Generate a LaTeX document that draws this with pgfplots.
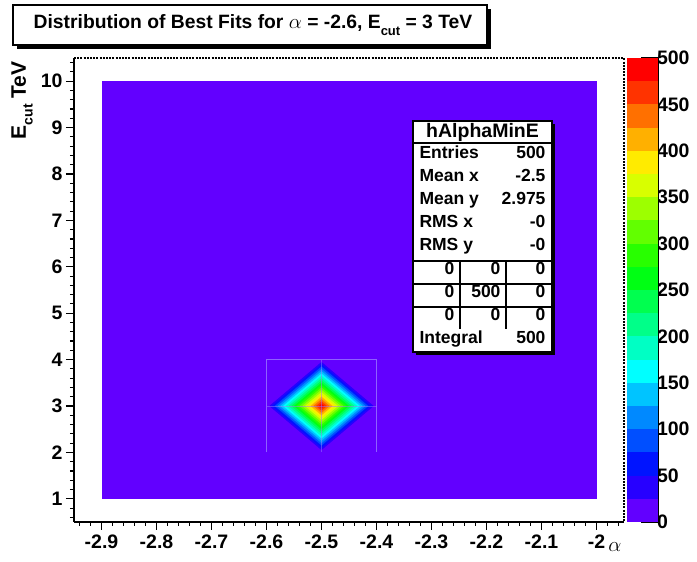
\documentclass[border=0pt]{standalone}
\usepackage{fontspec}
\setmainfont{Liberation Sans}
\usepackage{pgfplots}
\pgfplotsset{compat=1.18}

\definecolor{c0}{rgb}{0.383,0,1}
\definecolor{c1}{rgb}{0.153,0,1}
\definecolor{c2}{rgb}{0,0.077,1}
\definecolor{c3}{rgb}{0,0.308,1}
\definecolor{c4}{rgb}{0,0.538,1}
\definecolor{c5}{rgb}{0,0.770,1}
\definecolor{c6}{rgb}{0,1,1}
\definecolor{c7}{rgb}{0,1,0.770}
\definecolor{c8}{rgb}{0,1,0.538}
\definecolor{c9}{rgb}{0,1,0.308}
\definecolor{c10}{rgb}{0,1,0.077}
\definecolor{c11}{rgb}{0.155,1,0}
\definecolor{c12}{rgb}{0.385,1,0}
\definecolor{c13}{rgb}{0.615,1,0}
\definecolor{c14}{rgb}{0.847,1,0}
\definecolor{c15}{rgb}{1,0.923,0}
\definecolor{c16}{rgb}{1,0.692,0}
\definecolor{c17}{rgb}{1,0.44,0}
\definecolor{c18}{rgb}{1,0.2,0}
\definecolor{c19}{rgb}{1,0,0}
\definecolor{gridc}{rgb}{0.6,0.48,1}

\newcommand{\tfont}{\fontsize{19.5}{19.5}\selectfont\bfseries}
\newcommand{\sfontx}{\fontsize{17.5}{17.5}\selectfont\bfseries}

\begin{document}
\begin{tikzpicture}[x=1pt,y=1pt]
\path[use as bounding box] (0,0) rectangle (697,562);

% ---------------- main histogram axis ----------------
\begin{axis}[
  at={(74pt,40pt)}, anchor=south west,
  scale only axis, width=550pt, height=464pt,
  xmin=-2.95, xmax=-1.95, ymin=0.5, ymax=10.5,
  axis x line*=bottom, axis y line*=left,
  axis line style={-, line width=1.3pt},
  xtick={-2.9,-2.8,-2.7,-2.6,-2.5,-2.4,-2.3,-2.2,-2.1,-2.0},
  xticklabels={-2.9,-2.8,-2.7,-2.6,-2.5,-2.4,-2.3,-2.2,-2.1,-2},
  minor xtick={-2.94,-2.92,...,-1.955},
  ytick={1,2,3,4,5,6,7,8,9,10},
  yticklabels={1,2,3,4,5,6,7,8,9,10},
  minor ytick={0.6,0.8,...,10.45},
  tick align=outside,
  major tick length=8pt, minor tick length=4pt,
  tick style={line width=1.1pt, black},
  ticklabel style={font=\tfont},
  xticklabel style={yshift=-1.5pt},
  clip=false,
]
% histogram level 0 (0-25) everywhere
\addplot[fill=c0, draw=none] coordinates {(-2.9,1) (-2.0,1) (-2.0,10) (-2.9,10)} -- cycle;
% contour bands around the single filled bin (-2.5, 3) = 500
\addplot[fill=c1, draw=none] coordinates {(-2.595,3) (-2.5,2.05) (-2.405,3) (-2.5,3.95)} -- cycle;
\addplot[fill=c2, draw=none] coordinates {(-2.59,3) (-2.5,2.1) (-2.41,3) (-2.5,3.9)} -- cycle;
\addplot[fill=c3, draw=none] coordinates {(-2.585,3) (-2.5,2.15) (-2.415,3) (-2.5,3.85)} -- cycle;
\addplot[fill=c4, draw=none] coordinates {(-2.58,3) (-2.5,2.2) (-2.42,3) (-2.5,3.8)} -- cycle;
\addplot[fill=c5, draw=none] coordinates {(-2.575,3) (-2.5,2.25) (-2.425,3) (-2.5,3.75)} -- cycle;
\addplot[fill=c6, draw=none] coordinates {(-2.57,3) (-2.5,2.3) (-2.43,3) (-2.5,3.7)} -- cycle;
\addplot[fill=c7, draw=none] coordinates {(-2.565,3) (-2.5,2.35) (-2.435,3) (-2.5,3.65)} -- cycle;
\addplot[fill=c8, draw=none] coordinates {(-2.56,3) (-2.5,2.4) (-2.44,3) (-2.5,3.6)} -- cycle;
\addplot[fill=c9, draw=none] coordinates {(-2.555,3) (-2.5,2.45) (-2.445,3) (-2.5,3.55)} -- cycle;
\addplot[fill=c10, draw=none] coordinates {(-2.55,3) (-2.5,2.5) (-2.45,3) (-2.5,3.5)} -- cycle;
\addplot[fill=c11, draw=none] coordinates {(-2.545,3) (-2.5,2.55) (-2.455,3) (-2.5,3.45)} -- cycle;
\addplot[fill=c12, draw=none] coordinates {(-2.54,3) (-2.5,2.6) (-2.46,3) (-2.5,3.4)} -- cycle;
\addplot[fill=c13, draw=none] coordinates {(-2.535,3) (-2.5,2.65) (-2.465,3) (-2.5,3.35)} -- cycle;
\addplot[fill=c14, draw=none] coordinates {(-2.53,3) (-2.5,2.7) (-2.47,3) (-2.5,3.3)} -- cycle;
\addplot[fill=c15, draw=none] coordinates {(-2.525,3) (-2.5,2.75) (-2.475,3) (-2.5,3.25)} -- cycle;
\addplot[fill=c16, draw=none] coordinates {(-2.52,3) (-2.5,2.8) (-2.48,3) (-2.5,3.2)} -- cycle;
\addplot[fill=c17, draw=none] coordinates {(-2.515,3) (-2.5,2.85) (-2.485,3) (-2.5,3.15)} -- cycle;
\addplot[fill=c18, draw=none] coordinates {(-2.51,3) (-2.5,2.9) (-2.49,3) (-2.5,3.1)} -- cycle;
\addplot[fill=c19, draw=none] coordinates {(-2.505,3) (-2.5,2.95) (-2.495,3) (-2.5,3.05)} -- cycle;
% faint bin-grid lines of the contour cells
\addplot[gridc, line width=0.5pt, opacity=0.8] coordinates {(-2.6,2) (-2.6,4) (-2.4,4) (-2.4,2)};
\addplot[gridc, line width=0.5pt, opacity=0.5] coordinates {(-2.6,3) (-2.4,3)};
\addplot[gridc, line width=0.5pt, opacity=0.5] coordinates {(-2.5,2) (-2.5,4)};
% dashed top / right frame
\draw[line width=1.3pt, dash pattern=on 2pt off 1.2pt] (rel axis cs:0,1) -- (rel axis cs:1,1) -- (rel axis cs:1,0);
\end{axis}

% ---------------- colour bar ----------------
\begin{axis}[
  at={(627pt,40pt)}, anchor=south west,
  scale only axis, width=31pt, height=464pt,
  xmin=0, xmax=1, ymin=0, ymax=500,
  axis x line=none, axis y line*=right,
  axis line style={-, line width=1.1pt},
  ytick={0,50,100,150,200,250,300,350,400,450,500},
  yticklabels={0,50,100,150,200,250,300,350,400,450,500},
  tick align=inside, major tick length=17pt,
  tick style={line width=1.1pt, black},
  yticklabel style={font=\tfont, anchor=west, xshift=-4.5pt},
]
\addplot[fill=c0, draw=none] coordinates {(0,0) (1,0) (1,25) (0,25)} -- cycle;
\addplot[fill=c1, draw=none] coordinates {(0,25) (1,25) (1,50) (0,50)} -- cycle;
\addplot[fill=c2, draw=none] coordinates {(0,50) (1,50) (1,75) (0,75)} -- cycle;
\addplot[fill=c3, draw=none] coordinates {(0,75) (1,75) (1,100) (0,100)} -- cycle;
\addplot[fill=c4, draw=none] coordinates {(0,100) (1,100) (1,125) (0,125)} -- cycle;
\addplot[fill=c5, draw=none] coordinates {(0,125) (1,125) (1,150) (0,150)} -- cycle;
\addplot[fill=c6, draw=none] coordinates {(0,150) (1,150) (1,175) (0,175)} -- cycle;
\addplot[fill=c7, draw=none] coordinates {(0,175) (1,175) (1,200) (0,200)} -- cycle;
\addplot[fill=c8, draw=none] coordinates {(0,200) (1,200) (1,225) (0,225)} -- cycle;
\addplot[fill=c9, draw=none] coordinates {(0,225) (1,225) (1,250) (0,250)} -- cycle;
\addplot[fill=c10, draw=none] coordinates {(0,250) (1,250) (1,275) (0,275)} -- cycle;
\addplot[fill=c11, draw=none] coordinates {(0,275) (1,275) (1,300) (0,300)} -- cycle;
\addplot[fill=c12, draw=none] coordinates {(0,300) (1,300) (1,325) (0,325)} -- cycle;
\addplot[fill=c13, draw=none] coordinates {(0,325) (1,325) (1,350) (0,350)} -- cycle;
\addplot[fill=c14, draw=none] coordinates {(0,350) (1,350) (1,375) (0,375)} -- cycle;
\addplot[fill=c15, draw=none] coordinates {(0,375) (1,375) (1,400) (0,400)} -- cycle;
\addplot[fill=c16, draw=none] coordinates {(0,400) (1,400) (1,425) (0,425)} -- cycle;
\addplot[fill=c17, draw=none] coordinates {(0,425) (1,425) (1,450) (0,450)} -- cycle;
\addplot[fill=c18, draw=none] coordinates {(0,450) (1,450) (1,475) (0,475)} -- cycle;
\addplot[fill=c19, draw=none] coordinates {(0,475) (1,475) (1,500) (0,500)} -- cycle;
\end{axis}

% ---------------- title box ----------------
\fill[black] (17,513) rectangle (491,553);
\draw[fill=white, line width=1.2pt] (13,517) rectangle (487,557);
\node[font=\fontsize{19.3}{19.3}\selectfont\bfseries] at (253,537)
  {Distribution of Best Fits for $\alpha$ = -2.6, E\raisebox{-0.32em}{\fontsize{13}{13}\selectfont cut} = 3 TeV};

% ---------------- axis titles ----------------
\node[rotate=90, anchor=base east, font=\fontsize{21}{21}\selectfont\bfseries] at (26,504)
  {E\raisebox{-0.32em}{\fontsize{14}{14}\selectfont cut} TeV};
\node[font=\fontsize{22}{22}\selectfont] at (615,15) {$\alpha$};

% ---------------- statistics box ----------------
\fill[black] (416,207) rectangle (555,438);
\draw[fill=white, line width=1.2pt] (413,210) rectangle (552,441);
\draw[line width=1.1pt] (413,419) -- (552,419);
\draw[line width=1.1pt] (413,301) -- (552,301);
\draw[line width=1.1pt] (413,278) -- (552,278);
\draw[line width=1.1pt] (413,255) -- (552,255);
\draw[line width=1.1pt] (460,301) -- (460,233);
\draw[line width=1.1pt] (506,301) -- (506,233);
\node[font=\fontsize{19.5}{19.5}\selectfont\bfseries] at (482.5,430) {hAlphaMinE};
\node[font=\sfontx, anchor=mid west] at (416,406) {Entries};
\node[font=\sfontx, anchor=mid east] at (549,406) {500};
\node[font=\sfontx, anchor=mid west] at (416,383) {Mean x};
\node[font=\sfontx, anchor=mid east] at (549,383) {-2.5};
\node[font=\sfontx, anchor=mid west] at (416,360) {Mean y};
\node[font=\sfontx, anchor=mid east] at (549,360) {2.975};
\node[font=\sfontx, anchor=mid west] at (416,337) {RMS x};
\node[font=\sfontx, anchor=mid east] at (549,337) {-0};
\node[font=\sfontx, anchor=mid west] at (416,314) {RMS y};
\node[font=\sfontx, anchor=mid east] at (549,314) {-0};
\node[font=\sfontx, anchor=mid east] at (458,290) {0};
\node[font=\sfontx, anchor=mid east] at (504,290) {0};
\node[font=\sfontx, anchor=mid east] at (549,290) {0};
\node[font=\sfontx, anchor=mid east] at (458,267) {0};
\node[font=\sfontx, anchor=mid east] at (504,267) {500};
\node[font=\sfontx, anchor=mid east] at (549,267) {0};
\node[font=\sfontx, anchor=mid east] at (458,244) {0};
\node[font=\sfontx, anchor=mid east] at (504,244) {0};
\node[font=\sfontx, anchor=mid east] at (549,244) {0};
\node[font=\sfontx, anchor=mid west] at (416,221) {Integral};
\node[font=\sfontx, anchor=mid east] at (549,221) {500};
\end{tikzpicture}
\end{document}
